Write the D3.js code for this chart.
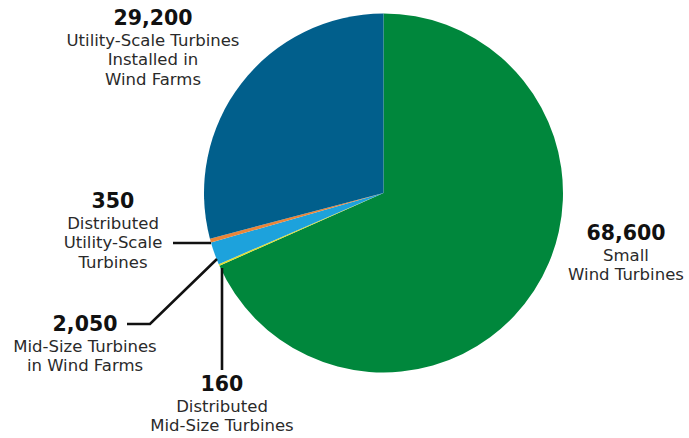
<!DOCTYPE html>
<html><head><meta charset="utf-8">
<script src="https://cdn.jsdelivr.net/npm/d3@7"></script>
<style>body{margin:0;background:#fff}svg{display:block}</style>
</head><body><svg id="c" width="689" height="438"></svg>
<script>
const categories = ["Small Wind Turbines","Distributed Mid-Size Turbines","Mid-Size Turbines in Wind Farms","Distributed Utility-Scale Turbines","Utility-Scale Turbines Installed in Wind Farms"];
const values = [68600, 160, 2050, 350, 29200];
const valueLabels = ["68,600","160","2,050","350","29,200"];
const colors = ["#00873c","#e3e02c","#1da2dc","#ea8538","#015f8c"];

const svg = d3.select("#c");
const cx = 383.5, cy = 193, r = 179.5;
const pie = d3.pie().sort(null).value(d => d)(values);
const arc = d3.arc().innerRadius(0).outerRadius(r);
const g = svg.append("g").attr("transform", `translate(${cx},${cy})`);
g.selectAll("path").data(pie).join("path").attr("d", arc).attr("fill", (d,i) => colors[i]);

// leader lines
const line = d3.line();
const lines = [
  [[173,243],[211,243]],
  [[127,324],[150,324],[217,259]],
  [[222,268],[222,370]]
];
svg.selectAll("path.lead").data(lines).join("path").attr("class","lead")
  .attr("d", d => line(d)).attr("fill","none").attr("stroke","#111").attr("stroke-width",2.6);

const font = "'DejaVu Sans', sans-serif";
const labels = [
  {i:0, x:626, y:240, sub:["Small","Wind Turbines"]},
  {i:1, x:222, y:391, sub:["Distributed","Mid-Size Turbines"]},
  {i:2, x:85, y:331, sub:["Mid-Size Turbines","in Wind Farms"]},
  {i:3, x:113, y:208, sub:["Distributed","Utility-Scale","Turbines"]},
  {i:4, x:153, y:25, sub:["Utility-Scale Turbines","Installed in","Wind Farms"]}
];
labels.forEach(l => {
  const t = svg.append("text").attr("x", l.x).attr("y", l.y).attr("text-anchor","middle")
    .attr("font-family", font);
  t.append("tspan").attr("x", l.x).attr("font-size", 20.5).attr("font-weight", 700).attr("fill","#111")
    .text(valueLabels[l.i]);
  l.sub.forEach((s, k) => {
    t.append("tspan").attr("x", l.x).attr("dy", k === 0 ? 20.5 : 19.5).attr("font-size", 16.5)
      .attr("fill","#2a2a2a").text(s);
  });
});
</script></body></html>
